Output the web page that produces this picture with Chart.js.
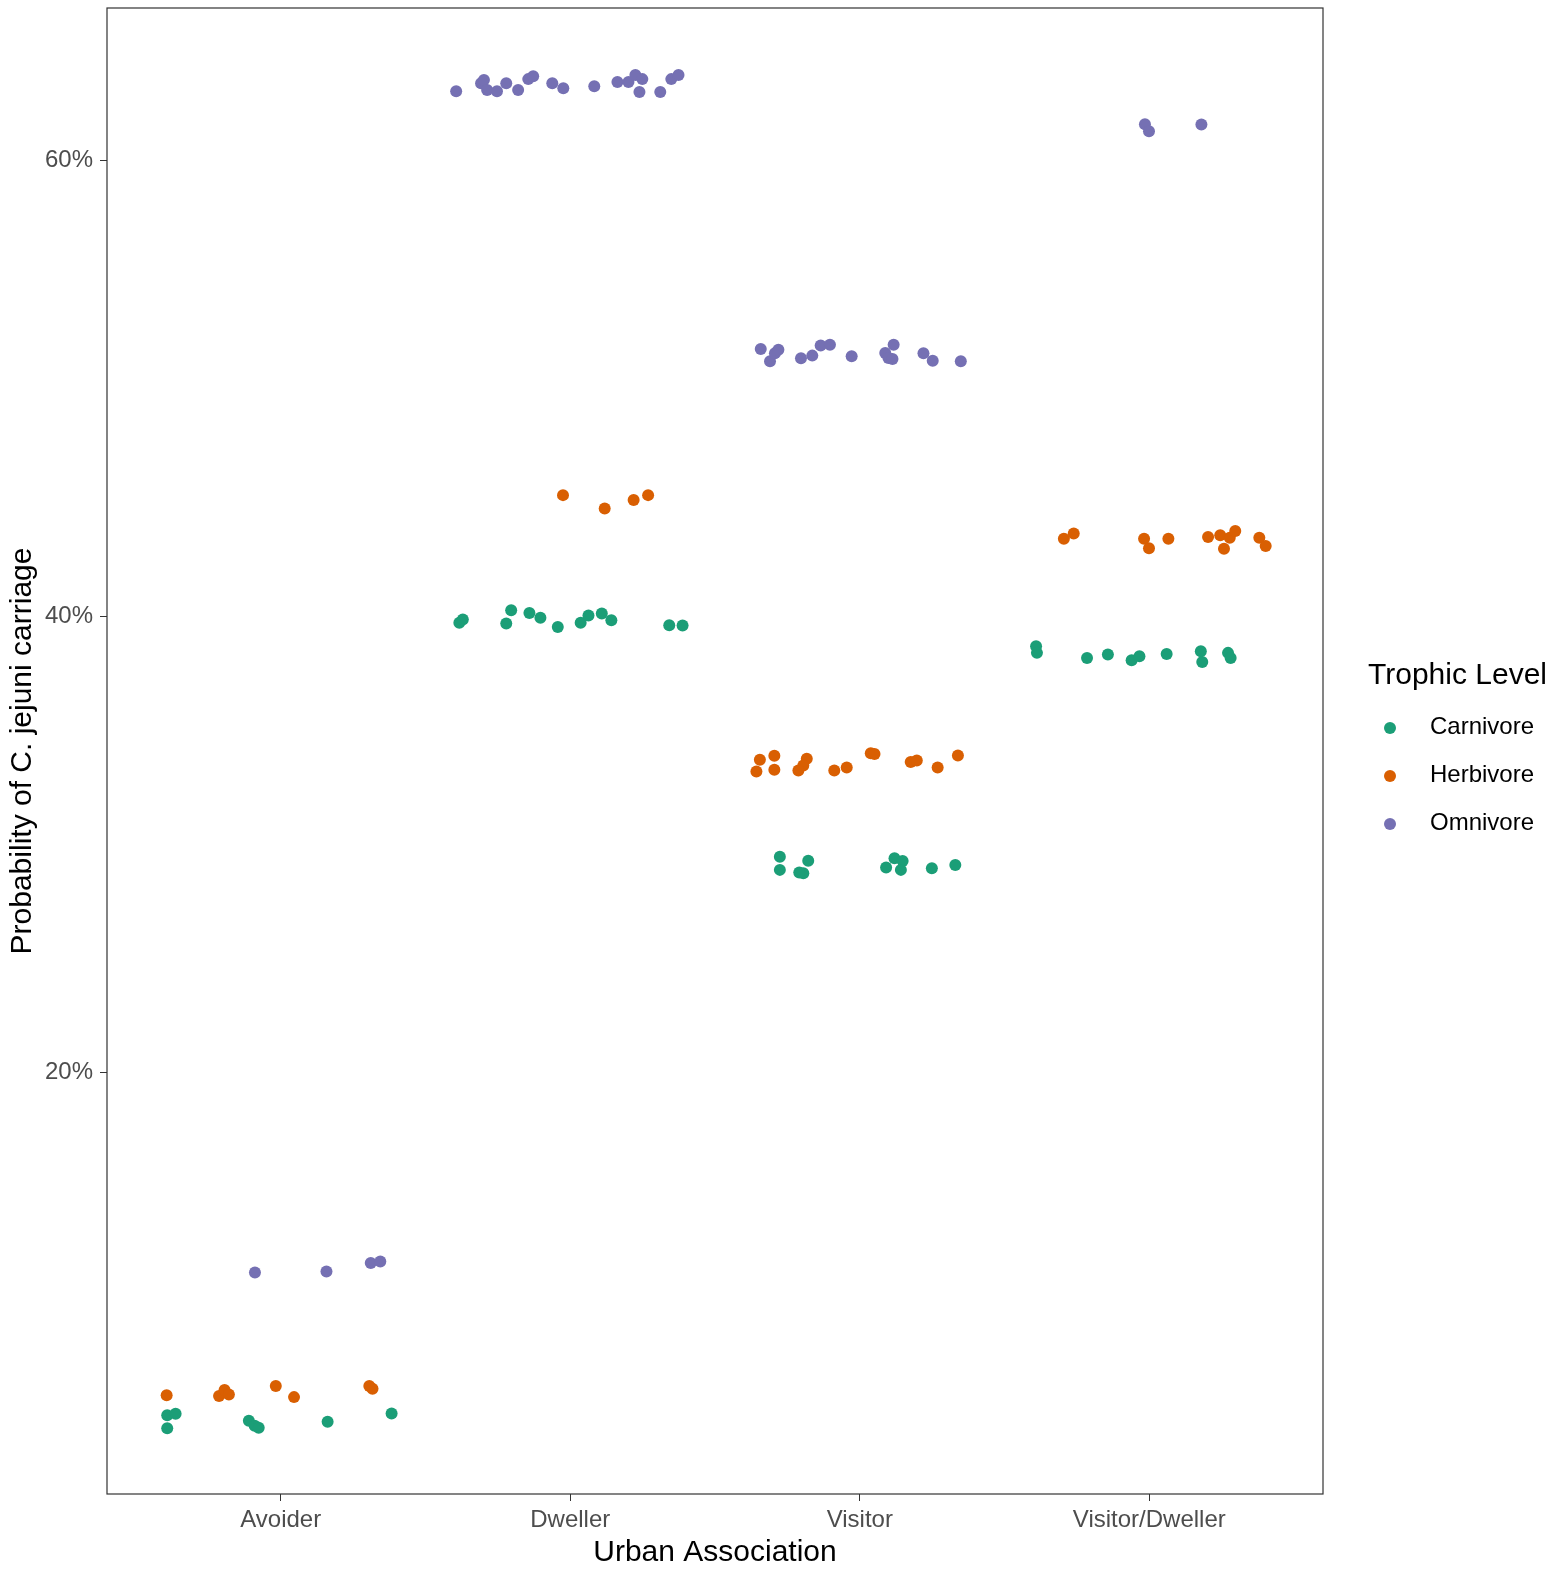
<!DOCTYPE html>
<html>
<head>
<meta charset="utf-8">
<script src="https://cdn.jsdelivr.net/npm/chart.js@4"></script>
<style>
  body { margin: 0; background: #fff; font-family: "Liberation Sans", Arial, sans-serif; }
  #wrap { position: relative; width: 1559px; height: 1571px; }
  #legend { position: absolute; left: 1368px; top: 654px; color: #000; }
  #legend .title { font-size: 30px; line-height: 40px; margin-bottom: 10px; }
  #legend .item { position: relative; height: 48px; font-size: 24px; }
  #legend .dot { position: absolute; left: 16px; top: 18px; width: 12px; height: 12px; border-radius: 50%; }
  #legend .lbl { position: absolute; left: 62px; top: 8px; line-height: 28px; }
</style>
</head>
<body>
<div id="wrap">
  <canvas id="chart" width="1559" height="1571"></canvas>
  <div id="legend"></div>
</div>
<script>
// categories on the x axis (jittered points sit around 1..4)
var categories = ['Avoider', 'Dweller', 'Visitor', 'Visitor/Dweller'];
var yTicks = [20, 40, 60];
var groups = ['Carnivore', 'Herbivore', 'Omnivore'];
var colors = ['#1B9E77', '#D95F02', '#7570B3'];

// Carnivore
var carnivoreX = [0.608, 0.637, 0.608, 0.890, 0.910, 0.924, 1.162, 1.383,
    1.617, 1.629, 1.779, 1.796, 1.859, 1.897, 1.957, 2.036, 2.063, 2.109, 2.142, 2.342, 2.388,
    2.724, 2.724, 2.822, 2.805, 2.791, 3.120, 3.148, 3.091, 3.142, 3.249, 3.330,
    3.609, 3.612, 3.785, 3.857, 3.939, 3.966, 4.060, 4.178, 4.183, 4.272, 4.281];
var carnivoreY = [4.94, 5.01, 4.37, 4.70, 4.48, 4.40, 4.66, 5.02,
    39.71, 39.85, 39.68, 40.26, 40.14, 39.93, 39.52, 39.71, 40.03, 40.12, 39.82, 39.60, 39.59,
    29.45, 28.87, 29.27, 28.72, 28.75, 29.38, 29.26, 28.97, 28.87, 28.94, 29.08,
    38.68, 38.39, 38.17, 38.32, 38.07, 38.24, 38.34, 38.46, 37.99, 38.39, 38.17];

// Herbivore
var herbivoreX = [0.606, 0.787, 0.806, 0.821, 0.983, 1.046, 1.306, 1.317,
    1.975, 2.119, 2.219, 2.269,
    2.655, 2.705, 2.643, 2.705, 2.817, 2.805, 2.788, 2.912, 2.955, 3.038, 3.051, 3.176, 3.197, 3.269, 3.339,
    3.705, 3.739, 3.982, 3.999, 4.066, 4.203, 4.245, 4.278, 4.297, 4.258, 4.380, 4.402];
var herbivoreY = [5.82, 5.79, 6.05, 5.86, 6.23, 5.74, 6.23, 6.11,
    45.31, 44.72, 45.10, 45.31,
    33.70, 33.88, 33.19, 33.26, 33.75, 33.45, 33.23, 33.23, 33.36, 33.99, 33.95, 33.60, 33.67, 33.36, 33.89,
    43.40, 43.63, 43.40, 42.98, 43.40, 43.47, 43.55, 43.44, 43.74, 42.96, 43.44, 43.08];

// Omnivore
var omnivoreX = [0.911, 1.158, 1.311, 1.344,
    1.606, 1.692, 1.702, 1.713, 1.747, 1.779, 1.820, 1.855, 1.872, 1.938,
    1.976, 2.083, 2.163, 2.201, 2.225, 2.249, 2.239, 2.311, 2.349, 2.374,
    2.658, 2.690, 2.707, 2.719, 2.797, 2.836, 2.865, 2.897, 2.972, 3.088,
    3.117, 3.099, 3.113, 3.220, 3.252, 3.349,
    3.985, 3.999, 4.180];
var omnivoreY = [11.21, 11.25, 11.62, 11.69,
    63.03, 63.38, 63.52, 63.08, 63.03, 63.38, 63.08, 63.56, 63.69, 63.38,
    63.16, 63.25, 63.43, 63.43, 63.74, 63.56, 62.99, 62.99, 63.56, 63.74,
    51.72, 51.18, 51.53, 51.69, 51.31, 51.43, 51.87, 51.91, 51.40, 51.55,
    51.91, 51.33, 51.28, 51.53, 51.21, 51.18,
    61.58, 61.27, 61.57];

function pts(xs, ys) {
    return xs.map(function(x, i) { return {x: x, y: ys[i]}; });
}

var series = [pts(carnivoreX, carnivoreY), pts(herbivoreX, herbivoreY), pts(omnivoreX, omnivoreY)];

var frame = {
    id: 'frame',
    afterDraw: function(chart) {
        var a = chart.chartArea, ctx = chart.ctx;
        ctx.save();
        ctx.strokeStyle = '#333';
        ctx.lineWidth = 1.2;
        ctx.strokeRect(a.left, a.top, a.right - a.left, a.bottom - a.top);
        ctx.restore();
    }
};

// no extra room for half tick labels, ggplot doesn't do that
function noPad(s) {
    s.paddingTop = 0; s.paddingBottom = 0; s.paddingLeft = 0; s.paddingRight = 0;
}

var font = "'Liberation Sans', Arial, sans-serif";
var ctx = document.getElementById('chart').getContext('2d');
var chart = new Chart(ctx, {
    type: 'scatter',
    data: {
        datasets: series.map(function(d, i) {
            return {
                label: groups[i],
                data: d,
                backgroundColor: colors[i],
                borderWidth: 0,
                pointRadius: 6,
                pointHoverRadius: 6
            };
        })
    },
    options: {
        responsive: false,
        animation: false,
        layout: {padding: {left: 0, top: 8, right: 236, bottom: 0}},
        plugins: {legend: {display: false}, tooltip: {enabled: false}},
        scales: {
            x: {
                type: 'linear',
                min: 0.4,
                max: 4.6,
                afterBuildTicks: function(s) { s.ticks = [1, 2, 3, 4].map(function(v) { return {value: v}; }); },
                afterFit: function(s) { s.height = 77; noPad(s); },
                grid: {drawOnChartArea: false, drawTicks: true, tickLength: 7, color: '#333'},
                border: {display: false},
                ticks: {
                    color: '#4D4D4D',
                    font: {family: font, size: 24},
                    padding: 5,
                    maxRotation: 0,
                    callback: function(v) { return categories[v - 1]; }
                },
                title: {display: true, text: 'Urban Association', color: '#000',
                        font: {family: font, size: 30}, padding: {top: 0, bottom: 0}}
            },
            y: {
                min: 1.49,
                max: 66.68,
                afterBuildTicks: function(s) { s.ticks = yTicks.map(function(v) { return {value: v}; }); },
                afterFit: function(s) { s.width = 107; noPad(s); },
                grid: {drawOnChartArea: false, drawTicks: true, tickLength: 7, color: '#333'},
                border: {display: false},
                ticks: {
                    color: '#4D4D4D',
                    font: {family: font, size: 24},
                    padding: 7,
                    callback: function(v) { return v + '%'; }
                },
                title: {display: true, text: 'Probability of C. jejuni carriage', color: '#000',
                        font: {family: font, size: 30}, padding: {top: 5, bottom: 0}}
            }
        }
    },
    plugins: [frame]
});

// legend, ggplot style on the right
var lg = document.getElementById('legend');
var html = '<div class="title">Trophic Level</div>';
groups.forEach(function(g, i) {
    html += '<div class="item"><span class="dot" style="background:' + colors[i] + '"></span>' +
            '<span class="lbl">' + g + '</span></div>';
});
lg.innerHTML = html;
</script>
</body>
</html>
